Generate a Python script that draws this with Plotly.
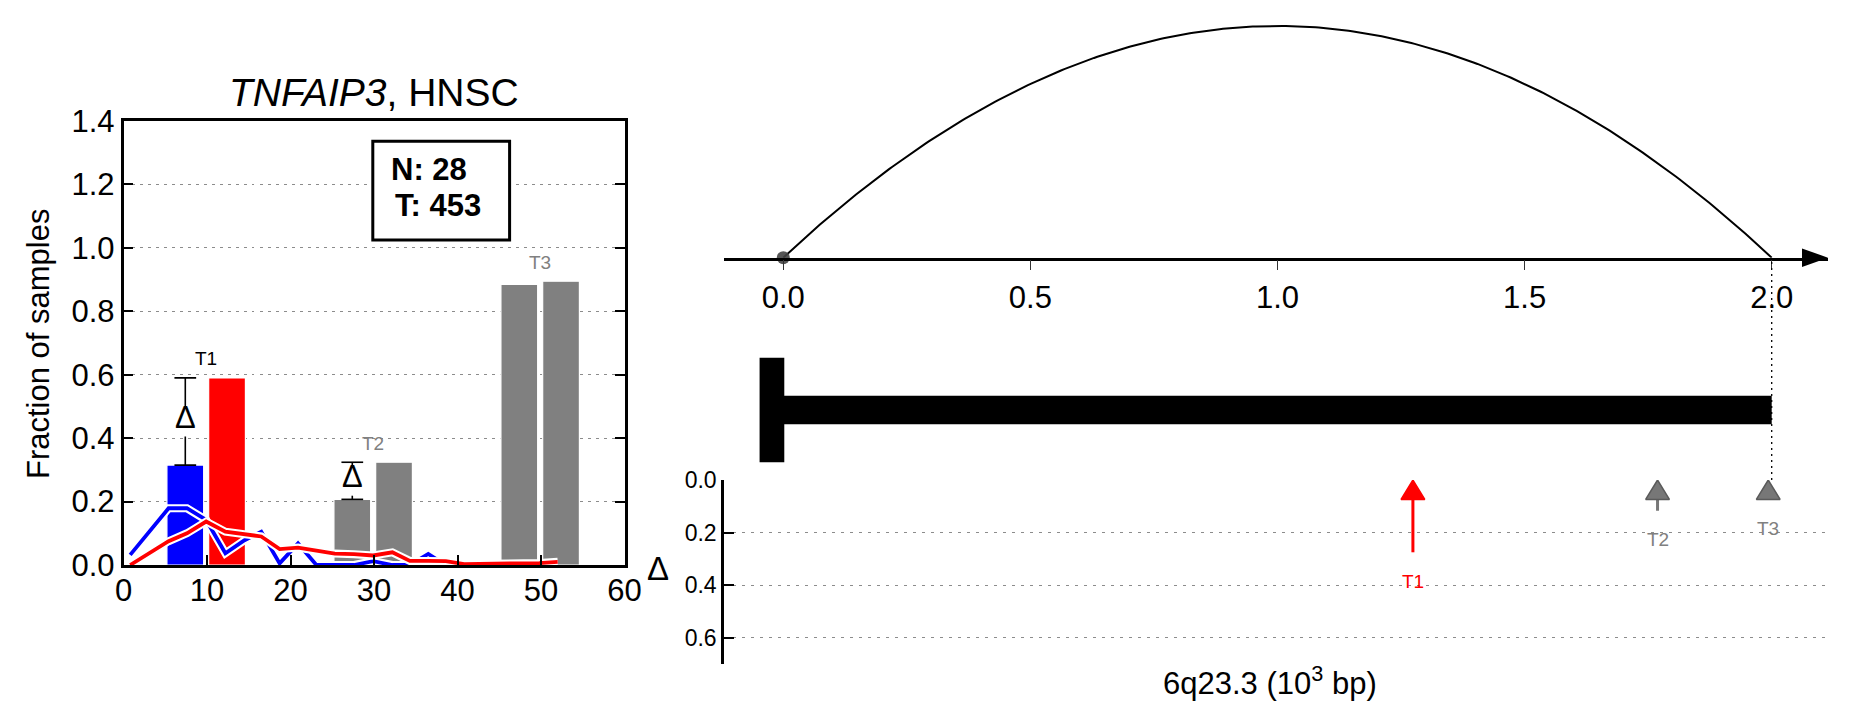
import numpy as np
import plotly.graph_objects as go

# ---------------- data ----------------
gene_name = "TNFAIP3"
cohort = "HNSC"
n_normal = 28
n_tumor = 453

target_names = ["T1", "T2", "T3"]
target_group_x = [9.9, 29.9, 49.9]          # centre of each normal/tumour bar pair
normal_frac = [0.315, 0.207, 0.885]
tumor_frac = [0.590, 0.324, 0.895]
target_significant = [True, False, False]
delta_shown = [True, True, False]

dist_x = [0.8, 3.1, 5.4, 7.6, 9.9, 12.2, 14.5, 16.5, 18.7, 20.9, 23.1, 25.3,
          27.6, 29.9, 32.2, 34.3, 36.5, 38.6, 40.8, 43.1, 45.3, 47.5, 49.8, 52.0]
dist_normal = [0.032, 0.105, 0.179, 0.179, 0.142, 0.037, 0.078, 0.105, 0.005, 0.068,
               0.0, 0.0, 0.0, 0.012, 0.0, 0.0, 0.035, 0.0, 0.0, 0.0, 0.0, 0.0, 0.0, 0.0]
dist_tumor = [0.0, 0.036, 0.075, 0.100, 0.137, 0.105, 0.097, 0.090, 0.050, 0.055,
              0.045, 0.036, 0.034, 0.030, 0.040, 0.013, 0.013, 0.012, 0.003, 0.003,
              0.004, 0.005, 0.006, 0.010]

left_xticks = [0, 10, 20, 30, 40, 50, 60]
left_yticks = [0.0, 0.2, 0.4, 0.6, 0.8, 1.0, 1.2, 1.4]

region_start, region_end = 0.0, 2.0
gene_start, gene_end = 0.0, 2.0
target_pos = [1.274, 1.769, 1.993]
arc_xticks = [0.0, 0.5, 1.0, 1.5, 2.0]
delta_yticks = [0.0, 0.2, 0.4, 0.6]
region_label = "6q23.3 (10<sup>3</sup> bp)"

# ---------------- styling ----------------
W, H = 1851, 718
FONT = "Liberation Sans, Arial, Helvetica, sans-serif"
BLUE, RED, GRAY = "#0000ff", "#ff0000", "#808080"


def PX(p):
    return p / W


def PY(p):
    return 1 - p / H


bar_offset = 2.5
bar_width = 4.4
cap_half = 1.3
label_gap = 0.06
delta_gap_half = 0.047   # white gap around the Δ glyph on the error bar

# right-panel geometry (pixels)
arc_left_px, arc_right_px = 724, 1828
px_per_unit = 494.2
zero_px = 783.3
xr = [(arc_left_px - zero_px) / px_per_unit, (arc_right_px - zero_px) / px_per_unit]
axis_y_px = 257.7
arc_top_px = 26.0
y2_top_px = 16.0
head_len = 0.074
head_hw = 0.024

fig = go.Figure()

# ---------------- left panel ----------------
normal_colors = [BLUE if s else GRAY for s in target_significant]
tumor_colors = [RED if s else GRAY for s in target_significant]
fig.add_trace(go.Bar(x=[g - bar_offset for g in target_group_x], y=normal_frac, width=bar_width,
                     marker=dict(color=normal_colors, line=dict(color="white", width=1.2)),
                     xaxis="x", yaxis="y"))
fig.add_trace(go.Bar(x=[g + bar_offset for g in target_group_x], y=tumor_frac, width=bar_width,
                     marker=dict(color=tumor_colors, line=dict(color="white", width=1.2)),
                     xaxis="x", yaxis="y"))

for vals, col in [(dist_normal, BLUE), (dist_tumor, RED)]:
    fig.add_trace(go.Scatter(x=dist_x, y=vals, mode="lines", line=dict(color="white", width=8),
                             xaxis="x", yaxis="y"))
    fig.add_trace(go.Scatter(x=dist_x, y=vals, mode="lines", line=dict(color=col, width=3.8),
                             xaxis="x", yaxis="y"))

ex, ey = [], []
annotations = []
for g, lo, hi, show in zip(target_group_x, normal_frac, tumor_frac, delta_shown):
    if not show:
        continue
    cx = g - bar_offset
    m = (lo + hi) / 2
    ex += [cx, cx, None, cx, cx, None,
           cx - cap_half, cx + cap_half, None, cx - cap_half, cx + cap_half, None]
    ey += [lo, m - delta_gap_half, None, m + delta_gap_half, hi, None, lo, lo, None, hi, hi, None]
    annotations.append(dict(x=cx, y=m, xref="x", yref="y", text="Δ", showarrow=False,
                            xanchor="center", yanchor="middle", yshift=4,
                            font=dict(size=31, color="black", family=FONT)))
fig.add_trace(go.Scatter(x=ex, y=ey, mode="lines", line=dict(color="black", width=1.6),
                         xaxis="x", yaxis="y"))

for name, g, lo, hi, s in zip(target_names, target_group_x, normal_frac, tumor_frac, target_significant):
    annotations.append(dict(x=g, y=max(lo, hi) + label_gap, xref="x", yref="y", text=name,
                            showarrow=False, xanchor="center", yanchor="middle",
                            font=dict(size=19, color="black" if s else GRAY, family=FONT)))

# ---------------- arc panel ----------------
mid = (region_start + region_end) / 2
half = (region_end - region_start) / 2
arc_x = np.linspace(region_start, region_end, 300)
arc_y = 1 - ((arc_x - mid) / half) ** 2
fig.add_trace(go.Scatter(x=arc_x, y=arc_y, mode="lines", line=dict(color="black", width=2),
                         xaxis="x2", yaxis="y2", cliponaxis=False))
fig.add_trace(go.Scatter(x=[region_start], y=[0], mode="markers", cliponaxis=False,
                         marker=dict(color="#444444", size=13, opacity=0.9),
                         xaxis="x2", yaxis="y2"))

# ---------------- gene model ----------------
bar_half, tss_half = 0.118, 0.435
tss_left, tss_right = gene_start - 0.048, gene_start + 0.002
fig.add_trace(go.Scatter(x=[gene_start, gene_end, gene_end, gene_start, gene_start],
                         y=[0.5 - bar_half, 0.5 - bar_half, 0.5 + bar_half, 0.5 + bar_half, 0.5 - bar_half],
                         mode="lines", fill="toself", fillcolor="black", line=dict(color="black", width=0),
                         xaxis="x4", yaxis="y4"))
fig.add_trace(go.Scatter(x=[tss_left, tss_right, tss_right, tss_left, tss_left],
                         y=[0.5 - tss_half, 0.5 - tss_half, 0.5 + tss_half, 0.5 + tss_half, 0.5 - tss_half],
                         mode="lines", fill="toself", fillcolor="black", line=dict(color="black", width=0),
                         xaxis="x4", yaxis="y4"))

# ---------------- delta arrows ----------------
deltas = [t - n for n, t in zip(normal_frac, tumor_frac)]
for name, p, d, s in zip(target_names, target_pos, deltas, target_significant):
    col = RED if s else "#777777"
    edge = RED if s else "#5a5a5a"
    if d > head_len:
        fig.add_trace(go.Scatter(x=[p, p], y=[head_len * 0.8, d], mode="lines",
                                 line=dict(color=col, width=3), xaxis="x3", yaxis="y3"))
    fig.add_trace(go.Scatter(x=[p, p - head_hw, p + head_hw, p], y=[0, head_len, head_len, 0],
                             mode="lines", fill="toself", fillcolor=col, cliponaxis=False,
                             line=dict(color=edge, width=1.5), xaxis="x3", yaxis="y3"))
    annotations.append(dict(x=p, y=max(d, head_len) + 0.11, xref="x3", yref="y3", text=name,
                            showarrow=False, xanchor="center", yanchor="middle",
                            font=dict(size=19, color=RED if s else GRAY, family=FONT)))

# ---------------- text ----------------
annotations += [
    dict(x=PX(374), y=PY(92.5), text=f"<i>{gene_name}</i>, {cohort}",
         font=dict(size=39, color="black", family=FONT)),
    dict(x=PX(38), y=PY(344), textangle=-90, text="Fraction of samples",
         font=dict(size=31, color="black", family=FONT)),
    dict(x=PX(389), y=PY(169), xanchor="left", text=f"<b>N: {n_normal}</b>",
         font=dict(size=31, color="black", family=FONT)),
    dict(x=PX(392.6), y=PY(205), xanchor="left", text=f"<b>T: {n_tumor}</b>",
         font=dict(size=31, color="black", family=FONT)),
    dict(x=PX(658), y=PY(568), text="Δ", font=dict(size=33, color="black", family=FONT)),
    dict(x=PX(1270), y=PY(681), text=region_label, font=dict(size=31, color="black", family=FONT)),
]
for a in annotations[-6:]:
    a.setdefault("xanchor", "center")
    a.update(xref="paper", yref="paper", showarrow=False, yanchor="middle")

shapes = [
    dict(type="rect", xref="paper", yref="paper", x0=PX(372.8), x1=PX(509.6), y0=PY(240), y1=PY(141.2),
         line=dict(color="black", width=3), fillcolor="white", layer="above"),
    dict(type="path", xref="paper", yref="paper", fillcolor="black", line=dict(color="black", width=0),
         path=f"M {PX(1828)},{PY(axis_y_px)} L {PX(1802)},{PY(axis_y_px - 9.3)} "
              f"L {PX(1802)},{PY(axis_y_px + 9.3)} Z"),
    dict(type="line", xref="x2", yref="paper", x0=gene_end, x1=gene_end, y0=PY(262), y1=PY(480),
         line=dict(color="black", width=1.3, dash="2px,4px")),
]

tickfont = dict(size=31, color="black", family=FONT)
fig.update_layout(
    width=W, height=H, margin=dict(l=0, r=0, t=0, b=0, pad=0, autoexpand=False),
    paper_bgcolor="white", plot_bgcolor="white", showlegend=False, barmode="overlay",
    font=dict(family=FONT, color="black"),
    annotations=annotations, shapes=shapes,
    xaxis=dict(domain=[PX(123.5), PX(624.5)], range=[0, 60], anchor="y", showline=True, mirror=True,
               linecolor="black", linewidth=2.5, ticks="inside", ticklen=10, tickwidth=1.5,
               tickcolor="black", tickvals=left_xticks, tickfont=tickfont, showgrid=False,
               zeroline=False, automargin=False, ticklabelstandoff=-4),
    yaxis=dict(domain=[PY(565), PY(121)], range=[0, 1.4], anchor="x", showline=True, mirror="allticks",
               linecolor="black", linewidth=2.5, ticks="inside", ticklen=10, tickwidth=1.5,
               tickcolor="black", tickvals=left_yticks, tickformat=".1f", tickfont=tickfont,
               showgrid=True, gridcolor="#8c8c8c", gridwidth=1, griddash="3px,5px", zeroline=False,
               automargin=False),
    xaxis2=dict(domain=[PX(arc_left_px), PX(arc_right_px)], range=xr, anchor="y2", showline=True,
                linecolor="black", linewidth=2.5, ticks="outside", ticklen=10, tickwidth=1,
                tickcolor="#333333", tickvals=arc_xticks, tickformat=".1f", tickfont=tickfont,
                showgrid=False, zeroline=False, automargin=False),
    yaxis2=dict(domain=[PY(axis_y_px), PY(y2_top_px)],
                range=[0, (axis_y_px - y2_top_px) / (axis_y_px - arc_top_px)], anchor="x2",
                visible=False, automargin=False),
    xaxis3=dict(domain=[PX(arc_left_px), PX(arc_right_px)], range=xr, anchor="y3", visible=False,
                automargin=False),
    yaxis3=dict(domain=[PY(664), PY(480)], range=[0.7, 0], anchor="x3", showline=True,
                linecolor="black", linewidth=2.5, ticks="inside", ticklen=10, tickwidth=1.5,
                tickcolor="black", tickvals=delta_yticks, tickformat=".1f",
                tickfont=dict(size=23, color="black", family=FONT), showgrid=True,
                gridcolor="#8c8c8c", gridwidth=1, griddash="3px,6px", zeroline=False,
                automargin=False),
    xaxis4=dict(domain=[PX(arc_left_px), PX(arc_right_px)], range=xr, anchor="y4", visible=False,
                automargin=False),
    yaxis4=dict(domain=[PY(470), PY(350)], range=[0, 1], anchor="x4", visible=False, automargin=False),
)

fig.write_html("out.html", config={"displayModeBar": False},
               post_script="document.body.style.margin='0';document.body.style.overflow='hidden';")
